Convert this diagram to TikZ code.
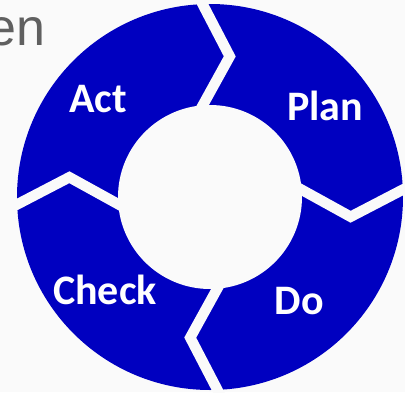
\documentclass[tikz,border=0pt]{standalone}
\usepackage{fontspec}
\setmainfont{Liberation Sans}
\newfontfamily\labelfont{Carlito}
\definecolor{ringblue}{RGB}{0,0,192}
\definecolor{paper}{RGB}{250,250,250}
\definecolor{textgray}{RGB}{96,96,96}
\tikzset{
  gap/.style={draw=paper, line width=10.5pt, line join=miter,
    shorten <=-15pt, shorten >=-15pt},
  phase/.style={text=white, inner sep=0pt, anchor=base,
    font=\labelfont\bfseries\fontsize{42}{50}\selectfont},
}
\begin{document}
\begin{tikzpicture}[x=1pt,y=1pt]
      \fill[paper] (-210,-195) rectangle (195,197);
      \useasboundingbox (-210,-195) rectangle (195,197);
      \node[text=textgray, inner sep=0pt, anchor=base east,
        font=\fontsize{52}{60}\selectfont] (en) at (-164,152) {en};
      % ring with four chevron gaps
      \fill[ringblue] (0,0) circle (193);
      \foreach \a in {93,3,-87,183}
        \draw[gap] (\a+1.5:92) -- (\a-11:142) -- (\a-0.8:193);
      \fill[paper] (0,0) circle (92);
      \draw
        (-112,85) node[phase] (act) {Act}
        (115,77) node[phase] (plan) {Plan}
        (89.5,-117) node[phase] (do) {Do}
        (-105,-107) node[phase] (check) {Check};
    \end{tikzpicture}
\end{document}
